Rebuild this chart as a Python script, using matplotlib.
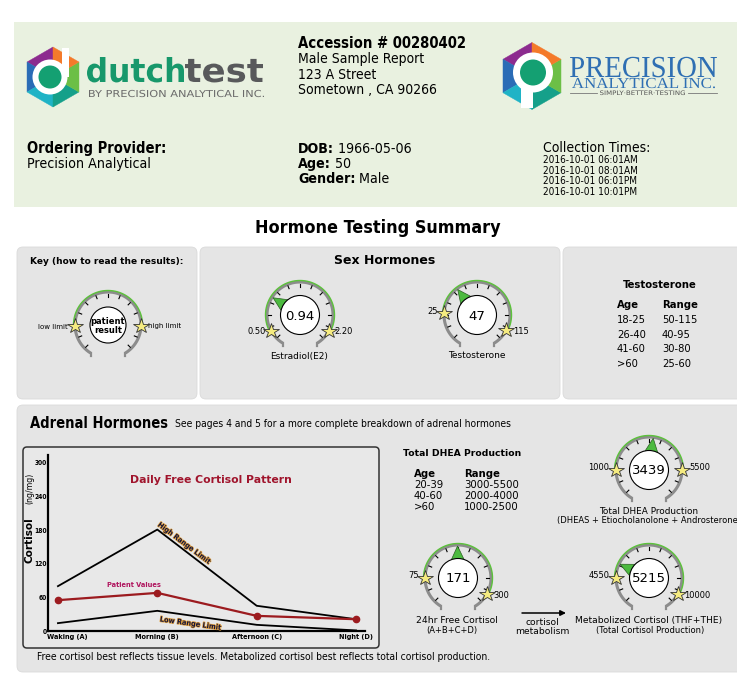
import numpy as np
import matplotlib
matplotlib.use("Agg")
import matplotlib.pyplot as plt
from matplotlib.patches import FancyBboxPatch, Circle, Polygon, PathPatch, Rectangle
from matplotlib.textpath import TextPath
from matplotlib.font_manager import FontProperties
from matplotlib.transforms import Affine2D, ScaledTranslation
import matplotlib.patheffects as pe

# ---- report data ----
accession = "00280402"
patient_lines = ["Male Sample Report", "123 A Street", "Sometown , CA 90266"]
provider = "Precision Analytical"
dob = "1966-05-06"
age = "50"
gender = "Male"
collection_times = ["2016-10-01 06:01AM", "2016-10-01 08:01AM",
                    "2016-10-01 06:01PM", "2016-10-01 10:01PM"]

testo_ages = ["18-25", "26-40", "41-60", ">60"]
testo_ranges = ["50-115", "40-95", "30-80", "25-60"]
dhea_ages = ["20-39", "40-60", ">60"]
dhea_ranges = ["3000-5500", "2000-4000", "1000-2500"]

# gauges: value, low limit, high limit
e2_value, e2_low, e2_high = 0.94, 0.50, 2.20
testo_value, testo_low, testo_high = 47, 25, 115
dhea_value, dhea_low, dhea_high = 3439, 1000, 5500
free_cort_value, free_cort_low, free_cort_high = 171, 75, 300
met_cort_value, met_cort_low, met_cort_high = 5215, 4550, 10000

# daily free cortisol pattern (ng/mg)
cortisol_times = ["Waking (A)", "Morning (B)", "Afternoon (C)", "Night (D)"]
cortisol_high = [80, 181, 45, 21]
cortisol_patient = [55, 68, 27, 21]
cortisol_low = [14, 36, 11, 1]
cortisol_ticks = [0, 60, 120, 180, 240, 300]

FAM = ["DejaVu Sans Condensed", "DejaVu Sans"]

fig = plt.figure(figsize=(7.37, 6.77), dpi=100)
ax = fig.add_axes([0, 0, 1, 1])
ax.set_xlim(0, 737)
ax.set_ylim(677, 0)
ax.axis("off")


def tx(x, y, s, size, bold=False, ha="left", va="baseline", color="black", cond=True, **kw):
    fam = FAM if cond else "DejaVu Sans"
    return ax.text(x, y, s, fontsize=size, fontweight="bold" if bold else "normal", ha=ha, va=va,
                   color=color, family=fam, fontstretch="condensed" if cond else "normal", **kw)


def path_text(s, x0, x1, ybase, height, color, ref="H", weight="bold", family="DejaVu Sans"):
    # logo text squeezed into a box
    fp = FontProperties(family=family, weight=weight)
    tp = TextPath((0, 0), s, size=100, prop=fp)
    bb = tp.get_extents()
    hh = TextPath((0, 0), ref, size=100, prop=fp).get_extents().y1
    tr = Affine2D().translate(-bb.x0, 0).scale((x1 - x0) / bb.width, -height / hh).translate(x0, ybase)
    ax.add_patch(PathPatch(tr.transform_path(tp), fc=color, ec="none", lw=0))


def panel(x0, y0, x1, y1, fc="#e5e5e5"):
    ax.add_patch(FancyBboxPatch((x0, y0), x1 - x0, y1 - y0,
                                boxstyle="round,pad=0,rounding_size=6", fc=fc, ec="#dadada", lw=0.6))


def hexlogo(cx, cy, R, ring_c, r_out, r_in, stem):
    cols = ["#8c2b8f", "#2a6cb6", "#1fb3c6", "#15a08a", "#6cbf46", "#f47a2a"]
    for k in range(6):
        a1 = np.radians(90 + 60 * k)
        a2 = np.radians(150 + 60 * k)
        pts = [(cx, cy), (cx + R * np.cos(a1), cy - R * np.sin(a1)), (cx + R * np.cos(a2), cy - R * np.sin(a2))]
        ax.add_patch(Polygon(pts, closed=True, fc=cols[k], ec=cols[k], lw=0.3))
    ax.add_patch(Circle(ring_c, r_out, fc="white", ec="none"))
    ax.add_patch(Rectangle((stem[0], stem[1]), stem[2], stem[3], fc="white", ec="none"))
    ax.add_patch(Circle(ring_c, r_in, fc="#14a072", ec="none"))


def gauge(cx, cy, a_low, a_high, value=None, low=None, high=None, fmt="{:g}",
          low_pos=None, high_pos=None, r=33):
    t = np.radians(np.linspace(238, -58, 200))
    ax.plot(cx + r * np.cos(t), cy - r * np.sin(t), color="#8c8c8c", lw=2.2, solid_capstyle="butt", zorder=3)
    for a in (238, -58):
        ex, ey = cx + r * np.cos(np.radians(a)), cy - r * np.sin(np.radians(a))
        ax.plot([ex, ex], [ey, ey + 3], color="#8c8c8c", lw=1.6, zorder=3)
    tg = np.radians(np.linspace(a_low, a_high, 120))
    ax.plot(cx + (r + 1.5) * np.cos(tg), cy - (r + 1.5) * np.sin(tg), color="#5cc23b", lw=1.0, zorder=4)
    for k in range(-6, 7):
        a = np.radians(90 + 22.5 * k)
        ax.plot([cx + (r - 4.5) * np.cos(a), cx + (r - 1.5) * np.cos(a)],
                [cy - (r - 4.5) * np.sin(a), cy - (r - 1.5) * np.sin(a)], color="black", lw=0.8, zorder=4)
    for a in (a_low, a_high):
        ax.plot(cx + r * np.cos(np.radians(a)), cy - r * np.sin(np.radians(a)), marker="*", ms=11.5,
                mfc="#f5eb80", mec="#333333", mew=0.6, zorder=6)
    if value is not None:
        av = a_low + (value - low) / (high - low) * (a_high - a_low)
        tri = []
        for rr, aa in ((32, av), (19.5, av - 19), (19.5, av + 19)):
            tri.append((cx + rr * np.cos(np.radians(aa)), cy - rr * np.sin(np.radians(aa))))
        ax.add_patch(Polygon(tri, closed=True, fc="#4cba3f", ec="#2b5e22", lw=0.5, zorder=5))
        ax.add_patch(Circle((cx, cy), 19.5, fc="white", ec="black", lw=0.8, zorder=6))
        tx(cx, cy + 1, fmt.format(value), 9.5, ha="center", va="center", cond=False, zorder=7)
        tx(low_pos[0], low_pos[1], fmt.format(low), 6, ha="right", va="center", cond=False)
        tx(high_pos[0], high_pos[1], fmt.format(high), 6, ha="left", va="center", cond=False)
    else:
        ax.add_patch(Circle((cx, cy), 18, fc="white", ec="black", lw=0.8, zorder=6))


# ---- header ----
ax.add_patch(Rectangle((14, 22), 723, 185, fc="#e9f1e0", ec="none"))
hexlogo(53, 77, 30, (50, 77), 17.5, 11.5, (62.5, 48, 7, 29))
path_text("dutch", 87, 184, 82, 25, "#17986b", ref="d")
path_text("test", 185, 263, 82, 25, "#58595b", ref="d")
path_text("BY PRECISION ANALYTICAL INC.", 89, 264, 97, 7, "#6b6b6b", weight="normal")
hexlogo(532, 76, 33.5, (533, 72.5), 20, 13, (521.5, 72, 11.5, 36))
path_text("PRECISION", 570, 717, 77, 20, "#2f6fb3", weight="normal", family="Liberation Serif")
path_text("ANALYTICAL INC.", 572, 715, 88, 10, "#2f6fb3", weight="normal", family="Liberation Serif")
path_text("SIMPLY\u00b7BETTER\u00b7TESTING", 600, 685, 95, 4.5, "#555555", weight="normal")
ax.plot([570, 597], [93, 93], color="#777777", lw=0.6)
ax.plot([688, 717], [93, 93], color="#777777", lw=0.6)

tx(298, 48, "Accession # " + accession, 10.6, bold=True)
for i, s in enumerate(patient_lines):
    tx(298, 63.5 + 15.3 * i, s, 10)
tx(27, 153, "Ordering Provider:", 10.5, bold=True)
tx(27, 168, provider, 10.2)
for i, (k, v) in enumerate([("DOB:", dob), ("Age:", age), ("Gender:", gender)]):
    t = tx(298, 153 + 15 * i, k, 10.2, bold=True)
    ax.annotate(" " + v, xycoords=t, xy=(1, 0), va="bottom", fontsize=10.2, family=FAM,
                fontstretch="condensed")
tx(543, 152, "Collection Times:", 10)
for i, s in enumerate(collection_times):
    tx(543, 163 + 10.6 * i, s, 7.2)

tx(378, 233, "Hormone Testing Summary", 12.9, bold=True, ha="center")

# ---- panels ----
panel(17, 247, 197, 399)
panel(200, 247, 560, 399)
panel(563, 247, 745, 399)
panel(17, 405, 745, 672)

# key
tx(107, 262, "Key (how to read the results):", 6.5, bold=True, ha="center", va="center", cond=False)
gauge(108, 325, 182, -2)
tx(108, 321, "patient", 6, bold=True, ha="center", va="center", cond=False, zorder=7)
tx(108, 330.5, "result", 6, bold=True, ha="center", va="center", cond=False, zorder=7)
tx(68, 327, "low limit", 5, ha="right", va="center", cond=False)
tx(148, 326, "high limit", 5, ha="left", va="center", cond=False)

# sex hormones
tx(385, 261, "Sex Hormones", 9, bold=True, ha="center", va="center", cond=False)
gauge(300, 315, 209, -29, e2_value, e2_low, e2_high, "{:.2f}", (266, 331), (334, 331))
tx(299, 356, "Estradiol(E2)", 6.5, ha="center", va="center", cond=False)
gauge(477, 315, 177, -27, testo_value, testo_low, testo_high, "{:d}", (438, 311), (513, 331))
tx(477, 356, "Testosterone", 6.5, ha="center", va="center", cond=False)

tx(660, 288, "Testosterone", 7.3, bold=True, ha="center", cond=False)
tx(617, 308, "Age", 7.3, bold=True, cond=False)
tx(662, 308, "Range", 7.3, bold=True, cond=False)
for i, (a, r) in enumerate(zip(testo_ages, testo_ranges)):
    tx(617, 323 + 14.6 * i, a, 7.2, cond=False)
    tx(662, 323 + 14.6 * i, r, 7.2, cond=False)

# adrenal
tx(30, 428, "Adrenal Hormones", 10.5, bold=True)
tx(175, 427, "See pages 4 and 5 for a more complete breakdown of adrenal hormones", 7.4)

tx(403, 456, "Total DHEA Production", 6.7, bold=True, cond=False)
tx(414, 477, "Age", 7.3, bold=True, cond=False)
tx(464, 477, "Range", 7.3, bold=True, cond=False)
for i, (a, r) in enumerate(zip(dhea_ages, dhea_ranges)):
    tx(414, 488 + 11 * i, a, 7.3, cond=False)
    tx(464, 488 + 11 * i, r, 7.3, cond=False)

gauge(649, 470, 180, 0, dhea_value, dhea_low, dhea_high, "{:d}", (609, 467), (689, 467))
tx(649, 514, "Total DHEA Production", 6.4, ha="center", cond=False)
tx(649, 523, "(DHEAS + Etiocholanolone + Androsterone)", 6.0, ha="center", cond=False)

gauge(458, 578, 180, -29, free_cort_value, free_cort_low, free_cort_high, "{:d}", (419, 576), (493, 595))
tx(457, 623, "24hr Free Cortisol", 6.6, ha="center", cond=False)
tx(452, 633, "(A+B+C+D)", 6.0, ha="center", cond=False)

ax.annotate("", xy=(566, 613), xytext=(522, 613),
            arrowprops=dict(arrowstyle="-|>", lw=1.1, color="black", mutation_scale=8, shrinkA=0, shrinkB=0))
tx(542, 625, "cortisol", 6.6, ha="center", cond=False)
tx(542, 634, "metabolism", 6.6, ha="center", cond=False)

gauge(649, 578, 180, -29, met_cort_value, met_cort_low, met_cort_high, "{:d}", (610, 575), (684, 595))
tx(649, 623, "Metabolized Cortisol (THF+THE)", 6.6, ha="center", cond=False)
tx(650, 633, "(Total Cortisol Production)", 6.0, ha="center", cond=False)

tx(37, 660, "Free cortisol best reflects tissue levels. Metabolized cortisol best reflects total cortisol production.", 7.35)

# ---- daily free cortisol chart ----
ax.add_patch(FancyBboxPatch((23, 447), 356, 201, boxstyle="round,pad=0,rounding_size=4",
                            fc="#e8e8e8", ec="#333333", lw=1.1))
tx(211, 480, "Daily Free Cortisol Pattern", 7.8, bold=True, ha="center", va="center",
   color="#a0142c", cond=False)
tx(30, 540, "Cortisol", 7.6, bold=True, ha="center", va="center", rotation=90, cond=False)
tx(30, 488, "(ng/mg)", 5.6, ha="center", va="center", rotation=90, cond=False)

cax = fig.add_axes([48 / 737, (677 - 631) / 677, (365 - 48) / 737, (631 - 455) / 677])
cax.patch.set_alpha(0)
xs = np.arange(len(cortisol_times))
cax.plot(xs, cortisol_high, color="black", lw=1.3)
cax.plot(xs, cortisol_low, color="black", lw=1.3)
cax.plot(xs, cortisol_patient, color="#9c1b1f", lw=1.6, marker="o", ms=4.5)
cax.set_xlim(-0.1, 3.09)
cax.set_ylim(0, 314)
for s in ("top", "right"):
    cax.spines[s].set_visible(False)
for s in ("left", "bottom"):
    cax.spines[s].set_linewidth(1.6)
cax.set_yticks(cortisol_ticks)
cax.set_yticklabels([str(v) for v in cortisol_ticks], fontsize=4.8, fontweight="bold",
                    family=FAM, fontstretch="condensed")
cax.set_xticks(xs)
cax.set_xticklabels(cortisol_times, fontsize=5.2, fontweight="bold", family=FAM, fontstretch="condensed")
cax.tick_params(axis="y", length=0, pad=0.8)
cax.tick_params(axis="x", length=0, pad=2.0)
lab0 = cax.get_xticklabels()[0]
lab0.set_transform(lab0.get_transform() + ScaledTranslation(9 / 100, 0, fig.dpi_scale_trans))

glow = [pe.withStroke(linewidth=1.0, foreground="#e0a040")]
cax.text(1.03, 195, "High Range Limit", fontsize=5.3, fontweight="bold", color="#15153a", rotation=-37,
         rotation_mode="anchor", ha="left", va="top", family=FAM, fontstretch="condensed", path_effects=glow)
cax.text(1.03, 26, "Low Range Limit", fontsize=5.3, fontweight="bold", color="#15153a", rotation=-8,
         rotation_mode="anchor", ha="left", va="top", family=FAM, fontstretch="condensed", path_effects=glow)
cax.text(0.49, 82, "Patient Values", fontsize=5.3, fontweight="bold", color="#b0155e",
         ha="left", va="center", family=FAM, fontstretch="condensed")

fig.savefig("out.png", dpi=100, facecolor="white")
